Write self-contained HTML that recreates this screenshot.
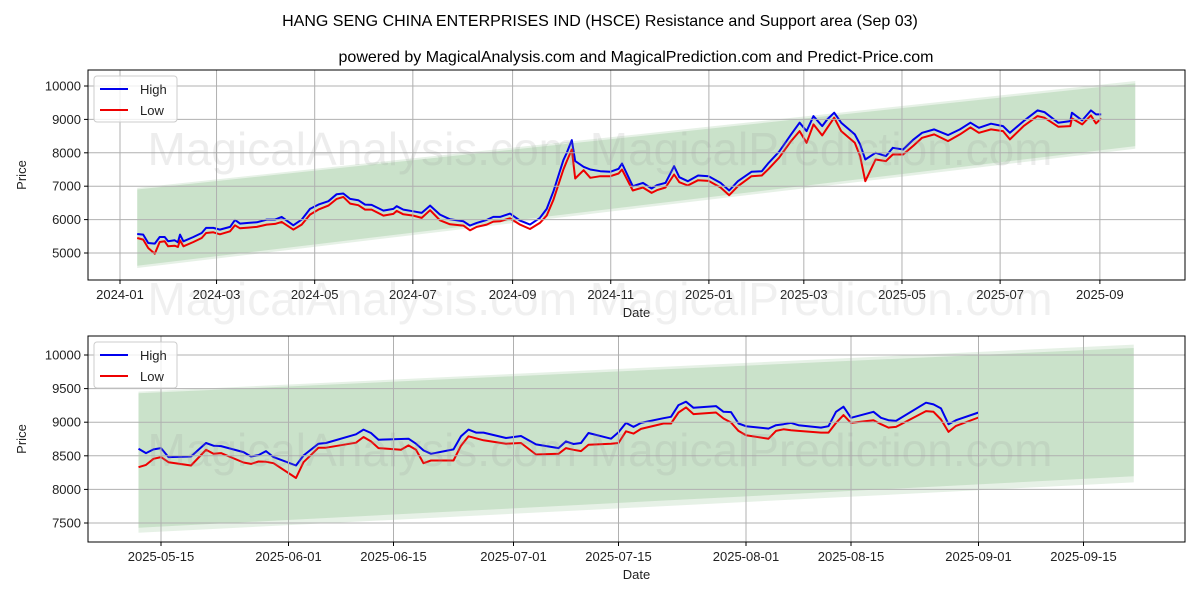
<!DOCTYPE html>
<html><head><meta charset="utf-8"><style>
html,body{margin:0;padding:0;background:#fff;}
svg{display:block;font-family:"Liberation Sans","DejaVu Sans",sans-serif;}
</style></head><body>
<svg id="chart" width="1200" height="600" viewBox="0 0 1200 600">
<rect width="1200" height="600" fill="#fff"/>
<text x="600" y="26" text-anchor="middle" font-size="16">HANG SENG CHINA ENTERPRISES IND (HSCE) Resistance and Support area (Sep 03)</text>
<text x="636" y="62" text-anchor="middle" font-size="16">powered by MagicalAnalysis.com and MagicalPrediction.com and Predict-Price.com</text>
<g id="top"></g>
<g id="bot"></g>
</svg>
<script>
// ---- Top chart data (days since 2024-01-01) ----
const topDays = [10.7,14.4,17.5,21.6,24.7,27.8,29.9,34,36,37.3,39.4,45.6,50.8,53.5,58,62.1,68.4,71.5,74.6,79.8,85,91.2,96.4,100.5,107.7,112.9,118.1,123.3,129.5,134.7,138.8,143,148.1,152.3,156.4,163.7,169.9,172,176.1,182.3,187.5,192.7,198.9,205.1,213.4,217.5,221.7,227.9,232,236.2,242.4,248.6,254.8,261,265.2,269.4,275.6,277.7,280.8,282.9,288.1,292.3,298.5,304.7,309.9,312,318.7,325,330.4,333.6,339,344.4,347.6,352.9,359.3,365.8,373.3,378.6,384,392.5,398.9,403.2,409.6,417.1,422.4,426.7,431,436.4,439.6,443.9,448.2,456.7,460,463.2,469.6,476,480.3,486.7,493.2,498.5,506,514.6,522,528.5,533.8,541.3,548.8,553.1,561.6,570.2,574.5,583.1,590.6,591.6,598,603.4,606.6,609.8];
const topHigh = [5570,5550,5300,5280,5480,5480,5350,5380,5320,5550,5350,5480,5600,5750,5750,5700,5780,5990,5880,5900,5920,6000,6000,6080,5830,6000,6320,6450,6550,6760,6780,6620,6580,6450,6440,6270,6320,6400,6300,6250,6200,6420,6150,6010,5950,5820,5900,5990,6080,6080,6180,5970,5850,6050,6320,6850,7780,8000,8380,7750,7580,7500,7450,7430,7520,7680,7000,7100,6930,7030,7100,7600,7270,7150,7320,7300,7100,6870,7150,7430,7450,7700,8030,8550,8900,8650,9100,8800,9000,9200,8900,8550,8250,7800,8000,7900,8150,8100,8400,8600,8700,8530,8700,8900,8750,8870,8800,8600,8950,9270,9220,8900,8950,9200,8970,9270,9150,9150];
const topLow = [5450,5400,5150,4980,5330,5350,5200,5220,5180,5380,5200,5330,5450,5600,5620,5560,5650,5830,5740,5760,5780,5850,5870,5930,5700,5850,6150,6300,6420,6620,6680,6480,6430,6300,6300,6120,6170,6260,6160,6120,6050,6280,5980,5860,5820,5680,5780,5850,5940,5950,6040,5850,5720,5900,6120,6600,7500,7750,8100,7230,7480,7250,7300,7300,7380,7500,6870,6960,6800,6880,6960,7350,7120,7020,7180,7160,6960,6730,7000,7300,7320,7520,7850,8350,8650,8300,8850,8520,8750,9050,8650,8300,7900,7150,7800,7750,7950,7950,8220,8450,8550,8350,8550,8760,8600,8700,8650,8400,8800,9100,9050,8780,8800,9030,8850,9120,8880,9030];
const topBandX = [10.7, 631];
const topOuterUp = [6950, 10150], topOuterLo = [4550, 8120];
const topInnerUp = [6900, 10080], topInnerLo = [4620, 8200];
const topYTicks = [5000,6000,7000,8000,9000,10000];
const topXTickDays = [0,60,121,182,244,305,366,425,486,547,609];
const topXTickLabels = ["2024-01","2024-03","2024-05","2024-07","2024-09","2024-11","2025-01","2025-03","2025-05","2025-07","2025-09"];

// ---- Bottom chart data (days since 2025-05-15) ----
const botDays = [-3,-2,-1,0,1,4,6,7,8,11,12,13,14,15,18,19,21,22,26,27,28,29,32,33,34,35,36,39,40,41,42,43,46,48,50,53,54,55,56,57,60,61,62,63,64,67,68,69,70,71,74,75,76,77,78,81,82,83,84,85,88,89,90,91,92,95,96,97,98,102,103,104,105,106,109];
const botHigh = [8605,8540,8595,8615,8480,8490,8690,8650,8645,8555,8490,8510,8570,8480,8355,8505,8680,8690,8820,8890,8840,8740,8750,8755,8680,8580,8530,8595,8790,8890,8845,8845,8765,8795,8670,8615,8715,8675,8690,8840,8755,8850,8990,8930,8990,9060,9080,9255,9305,9215,9240,9155,9150,8980,8940,8905,8955,8970,8990,8955,8920,8940,9155,9230,9065,9155,9065,9030,9020,9290,9265,9205,8970,9030,9145];
const botLow = [8330,8365,8455,8480,8405,8355,8590,8530,8540,8400,8380,8415,8410,8390,8170,8405,8620,8620,8695,8780,8715,8615,8590,8655,8590,8390,8430,8430,8650,8790,8760,8730,8680,8690,8520,8530,8615,8590,8570,8665,8680,8690,8865,8830,8900,8980,8980,9145,9220,9120,9145,9055,8995,8870,8805,8755,8870,8895,8880,8870,8845,8845,8990,9105,8990,9030,8970,8920,8930,9165,9155,9040,8855,8945,9070];
const botBandX = [-3, 129.7];
const botOuterUp = [9455, 10155], botOuterLo = [7355, 8105];
const botInnerUp = [9430, 10105], botInnerLo = [7430, 8195];
const botYTicks = [7500,8000,8500,9000,9500,10000];
const botXTickDays = [0,17,31,47,61,78,92,109,123];
const botXTickLabels = ["2025-05-15","2025-06-01","2025-06-15","2025-07-01","2025-07-15","2025-08-01","2025-08-15","2025-09-01","2025-09-15"];

const NS = "http://www.w3.org/2000/svg";
function mk(parent, tag, attrs, txt){
  const e = document.createElementNS(NS, tag);
  for (const k in attrs) e.setAttribute(k, attrs[k]);
  if (txt !== undefined) e.textContent = txt;
  parent.appendChild(e);
  return e;
}

function panel(g, box, xs, ys, d){
  const {x0,x1,y0,y1} = box;
  const clipId = g.id + "-clip";
  const defs = mk(g, "defs", {});
  const cp = mk(defs, "clipPath", {id: clipId});
  mk(cp, "rect", {x:x0, y:y0, width:x1-x0, height:y1-y0});
  const plot = mk(g, "g", {"clip-path": "url(#" + clipId + ")"});
  
  
  function band(up, lo, col, op, name){
    const pts = [[xs(d.bandX[0]), ys(up[0])],[xs(d.bandX[1]), ys(up[1])],[xs(d.bandX[1]), ys(lo[1])],[xs(d.bandX[0]), ys(lo[0])]];
    const p = mk(plot, "polygon", {points: pts.map(q=>q.join(",")).join(" "), fill: col, "fill-opacity": op});
    
    
  }
  band(d.outerUp, d.outerLo, "#2e8b2e", 0.12, "outer-band");
  band(d.innerUp, d.innerLo, "#2e8b2e", 0.15, "support-resistance-band");
  d.yTicks.forEach(v=>{
    const l = mk(g, "line", {x1:x0, x2:x1, y1:ys(v), y2:ys(v), stroke:"#b0b0b0", "stroke-width":1});
    
    
    const t = mk(g, "text", {x:x0-7, y:ys(v)+4.5, "text-anchor":"end", "font-size":13, fill:"#222"}, String(v));
    
    
    mk(g, "line", {x1:x0-4, x2:x0, y1:ys(v), y2:ys(v), stroke:"#000"});
  });
  d.xTicks.forEach((v,i)=>{
    const x = xs(v);
    const l = mk(g, "line", {x1:x, x2:x, y1:y0, y2:y1, stroke:"#b0b0b0", "stroke-width":1});
    
    
    mk(g, "line", {x1:x, x2:x, y1:y1, y2:y1+4, stroke:"#000"});
    const t = mk(g, "text", {x:x, y:y1+19, "text-anchor":"middle", "font-size":13, fill:"#222"}, d.xLabels[i]);
    
    
  });
  const wm = mk(g, "text", {x:600, y:d.wmY, "text-anchor":"middle", "font-size":46, fill:"#999", "fill-opacity":0.18}, "MagicalAnalysis.com    MagicalPrediction.com");
  
  
  function series(vals, col, name){
    const pts = d.days.map((dd,i)=>xs(dd).toFixed(1)+","+ys(vals[i]).toFixed(1)).join(" ");
    const p = mk(plot, "polyline", {points: pts, fill:"none", stroke: col, "stroke-width":2, "stroke-linejoin":"round"});
    
    
  }
  series(d.high, "#0000ee", "high-line");
  series(d.low, "#ee0000", "low-line");
  const fr = mk(g, "rect", {x:x0, y:y0, width:x1-x0, height:y1-y0, fill:"none", stroke:"#000", "stroke-width":1});
  
  
  const yl = mk(g, "text", {x:0, y:0, transform:"translate(26," + ((y0+y1)/2) + ") rotate(-90)", "text-anchor":"middle", "font-size":13, fill:"#222"}, "Price");
  
  
  const xl = mk(g, "text", {x:(x0+x1)/2, y:y1+37, "text-anchor":"middle", "font-size":13, fill:"#222"}, "Date");
  
  
  const lg = mk(g, "g", {});
  
  
  mk(lg, "rect", {x:x0+6, y:y0+6, width:83, height:46, rx:3, fill:"#fff", "fill-opacity":0.8, stroke:"#ccc"});
  const e1 = mk(lg, "g", {});
  
  
  mk(e1, "line", {x1:x0+12, x2:x0+40, y1:y0+19, y2:y0+19, stroke:"#0000ee", "stroke-width":2});
  mk(e1, "text", {x:x0+52, y:y0+24, "font-size":13, fill:"#222"}, "High");
  const e2 = mk(lg, "g", {});
  
  
  mk(e2, "line", {x1:x0+12, x2:x0+40, y1:y0+40, y2:y0+40, stroke:"#ee0000", "stroke-width":2});
  mk(e2, "text", {x:x0+52, y:y0+45, "font-size":13, fill:"#222"}, "Low");
}

(function(){
  const box = {x0:88, x1:1185, y0:70, y1:280};
  const xs = d => 120 + d*1.609;
  const ys = v => 86 + (10000 - v) * (167/5000);
  panel(document.getElementById("top"), box, xs, ys, {
    days: topDays, high: topHigh, low: topLow, bandX: topBandX,
    outerUp: topOuterUp, outerLo: topOuterLo, innerUp: topInnerUp, innerLo: topInnerLo,
    yTicks: topYTicks, xTicks: topXTickDays, xLabels: topXTickLabels, wmY: 165
  });
})();
(function(){
  const box = {x0:88, x1:1185, y0:336, y1:542};
  const xs = d => 161 + d*7.5;
  const ys = v => 355 + (10000 - v) * (168/2500);
  panel(document.getElementById("bot"), box, xs, ys, {
    days: botDays, high: botHigh, low: botLow, bandX: botBandX,
    outerUp: botOuterUp, outerLo: botOuterLo, innerUp: botInnerUp, innerLo: botInnerLo,
    yTicks: botYTicks, xTicks: botXTickDays, xLabels: botXTickLabels, wmY: 466
  });
})();
const wm2 = mk(document.getElementById("chart"), "text", {x:600, y:315, "text-anchor":"middle", "font-size":46, fill:"#999", "fill-opacity":0.15}, "MagicalAnalysis.com    MagicalPrediction.com");


</script>
</body></html>
